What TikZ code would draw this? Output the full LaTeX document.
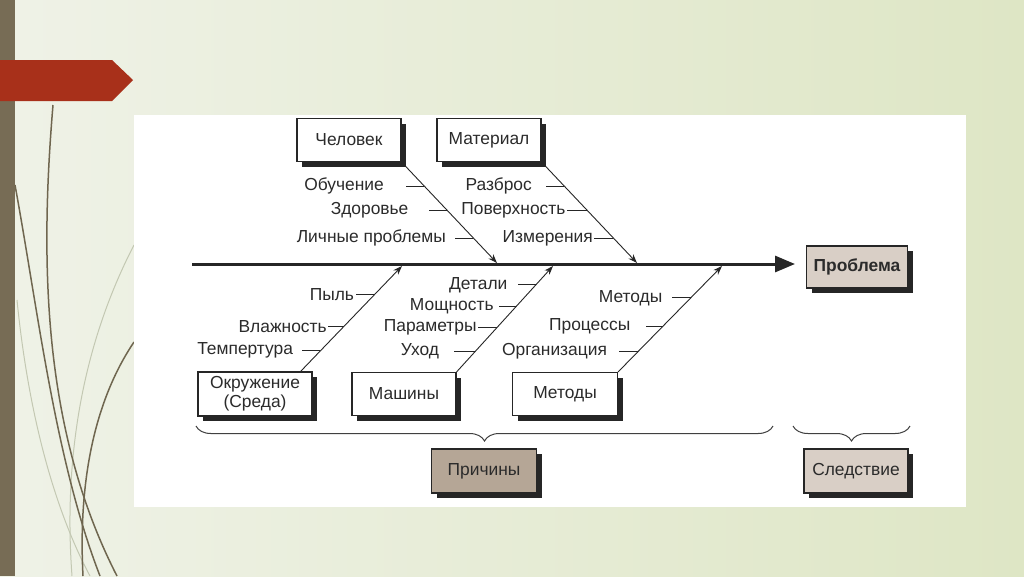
\documentclass[tikz,border=0pt]{standalone}
\usepackage{fontspec}
\setmainfont{Liberation Sans}
\usetikzlibrary{positioning,arrows.meta,shadows,decorations.pathreplacing}
\definecolor{slidel}{HTML}{EFF2E7}
\definecolor{slider}{HTML}{DEE6C5}
\definecolor{olive}{HTML}{776C55}
\definecolor{grass}{HTML}{6F664F}
\definecolor{grasslight}{HTML}{C3C8B2}
\definecolor{banner}{HTML}{A8301A}
\definecolor{beige}{HTML}{D9CFC6}
\definecolor{brownbox}{HTML}{B5A696}
\definecolor{ink}{HTML}{2B2B2B}
\newcommand{\boxfont}{\fontsize{17.4}{19}\selectfont}

\begin{document}
\begin{tikzpicture}[x=1pt, y=-1pt,
every node/.style = {font=\boxfont, text=ink},
  box/.style = {draw=black!85, line width=1.1pt, fill=white, align=center,
    minimum width=104pt, minimum height=43pt, inner sep=1pt,
    drop shadow={shadow xshift=5pt, shadow yshift=-5pt, fill=black!85, opacity=1}},
  lbl/.style = {anchor=east, inner sep=0pt},
  bone/.style = {draw=black!85, line width=0.9pt, -{Stealth[length=9pt,width=6.5pt]}},
  tick/.style = {draw=black!85, line width=0.9pt},
  curly/.style = {draw=black!75, line width=1pt, decorate, decoration={brace, mirror, amplitude=15pt}}
]
% slide background
\fill[left color=slidel, right color=slider] (0,0) rectangle (1024,576);
\draw[grasslight, line width=1pt] (134,245) .. controls (90,330) and (62,440) .. (72,576);
\draw[grasslight, line width=1pt] (17,300) .. controls (30,430) and (60,520) .. (90,576);
\draw[grass, line width=1.5pt] (53,105) .. controls (40,260) and (42,430) .. (117,576);
\draw[grass, line width=1.5pt] (15,185) .. controls (38,310) and (55,460) .. (100,576);
\draw[grass, line width=1.5pt] (134,342) .. controls (95,400) and (78,480) .. (83,576);
\fill[olive] (0,0) rectangle (15,576);
\fill[banner] (0,60) -- (112,60) -- (133,80) -- (112,101) -- (0,101) -- cycle;
\fill[white] (134,115) rectangle (966,507);

% boxes
\node[box] (chel) at (349,140) {Человек};
\node[box] (mat) at (489,140) {Материал};
\node[box, minimum width=114pt, minimum height=44pt, inner sep=2pt] (okr) at (255,394) {Окружение\\(Среда)};
\node[box] (mash) at (404,394) {Машины};
\node[box, minimum width=105pt] (meth) at (565,394) {Методы};
\node[box, fill=beige, minimum width=101pt, minimum height=42pt,
  font=\boxfont\bfseries] (prob) at (857,267) {Проблема};
\node[box, fill=brownbox, minimum width=105pt, minimum height=44pt] (prich) at (484,471) {Причины};
\node[box, fill=beige, minimum height=44pt] (sled) at (856,471) {Следствие};

% spine
\coordinate (tail) at (192,264);
\coordinate (head) at (795,264);
\draw[black!85, line width=3pt, -{Triangle[length=20pt,width=16pt]}] (tail) -- (head);
\coordinate (s1) at (497,263);
\coordinate (s2) at (637,263);
\coordinate (s3) at (402,266);
\coordinate (s4) at (553,266);
\coordinate (s5) at (722,266);

% bones
\draw[bone] (chel.south east) -- (s1);
\draw[bone] (mat.south east) -- (s2);
\draw[bone] ([xshift=-12pt]okr.north east) -- (s3);
\draw[bone] (mash.north east) -- (s4);
\draw[bone] (meth.north east) -- (s5);

% causes
\path (chel.south east) -- (s1) coordinate[pos=.238] (ch1) coordinate[pos=.475] (ch2) coordinate[pos=.752] (ch3);
\draw[tick] (ch1) -- ++(-18,0) node[lbl, xshift=-22pt] (obuch) {Обучение};
\draw[tick] (ch2) -- ++(-18,0) node[lbl, xshift=-20pt] (zdor) {Здоровье};
\draw[tick] (ch3) -- ++(-18,0) node[lbl, xshift=-9pt] (lichn) {Личные проблемы};

\path (mat.south east) -- (s2) coordinate[pos=.238] (ma1) coordinate[pos=.475] (ma2) coordinate[pos=.752] (ma3);
\draw[tick] (ma1) -- ++(-18,0) node[lbl, xshift=-14pt] (razbr) {Разброс};
\draw[tick] (ma2) -- ++(-20,0) node[lbl, xshift=-1pt] (pover) {Поверхность};
\draw[tick] (ma3) -- ++(-19,0) node[lbl, xshift=-1pt] (izmer) {Измерения};

\path ([xshift=-12pt]okr.north east) -- (s3) coordinate[pos=.196] (ok1) coordinate[pos=.43] (ok2) coordinate[pos=.729] (ok3);
\draw[tick] (ok1) -- ++(-18,0) node[lbl, xshift=-9pt] (temp) {Темпертура};
\draw[tick] (ok2) -- ++(-16,0) node[lbl, xshift=-1pt] (vlazh) {Влажность};
\draw[tick] (ok3) -- ++(-19,0) node[lbl, xshift=-1pt] (pyl) {Пыль};

\path (mash.north east) -- (s4) coordinate[pos=.196] (mh1) coordinate[pos=.42] (mh2) coordinate[pos=.617] (mh3) coordinate[pos=.822] (mh4);
\draw[tick] (mh1) -- ++(-21,0) node[lbl, xshift=-15pt] (uhod) {Уход};
\draw[tick] (mh2) -- ++(-19,0) node[lbl, xshift=-1pt] (param) {Параметры};
\draw[tick] (mh3) -- ++(-17,0) node[lbl, xshift=-5pt] (moshch) {Мощность};
\draw[tick] (mh4) -- ++(-18,0) node[lbl, xshift=-10pt] (detal) {Детали};

\path (meth.north east) -- (s5) coordinate[pos=.196] (me1) coordinate[pos=.43] (me2) coordinate[pos=.70] (me3);
\draw[tick] (me1) -- ++(-19,0) node[lbl, xshift=-12pt] (organ) {Организация};
\draw[tick] (me2) -- ++(-17,0) node[lbl, xshift=-15pt] (proc) {Процессы};
\draw[tick] (me3) -- ++(-19,0) node[lbl, xshift=-9pt] (metod) {Методы};

% braces
\coordinate (brL) at (196,426);
\coordinate (brR) at (773,426);
\coordinate (beL) at (793,426);
\coordinate (beR) at (910,426);
\draw[curly] (brL) -- (brR);
\draw[curly] (beL) -- (beR);
\end{tikzpicture}
\end{document}
